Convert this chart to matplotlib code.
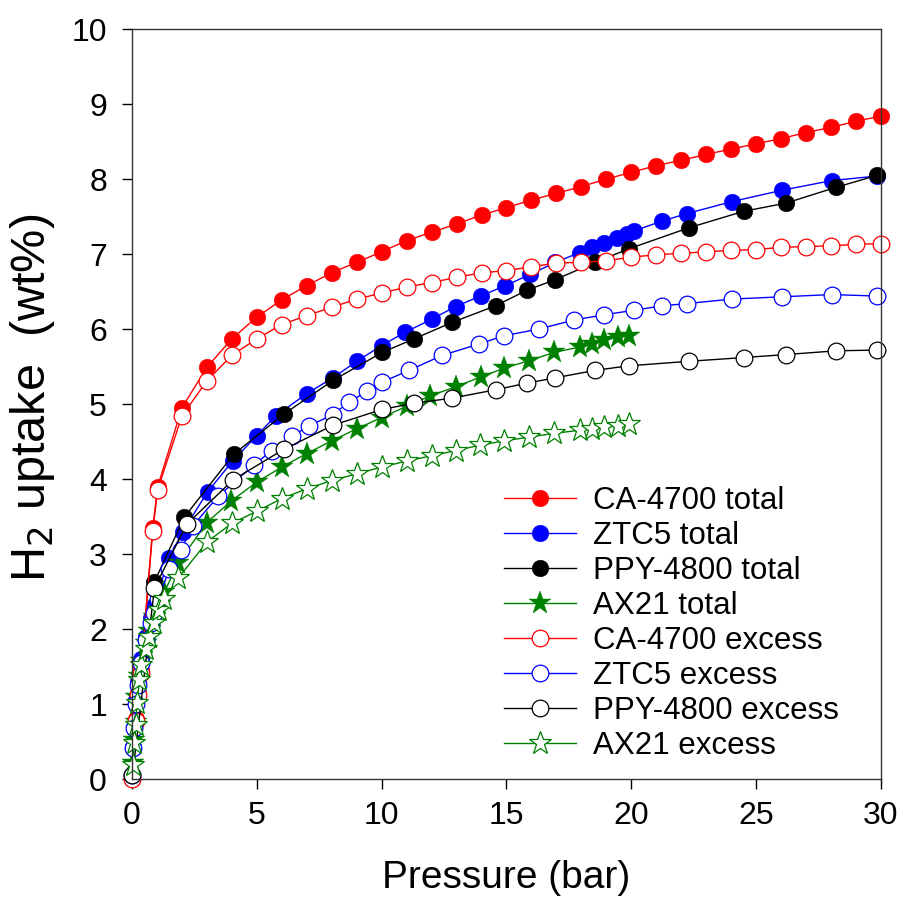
"""H2 uptake isotherms: total and excess for four carbons."""

import matplotlib
matplotlib.use("Agg")
import matplotlib.pyplot as plt

plt.rcParams["font.family"] = ["Liberation Sans", "DejaVu Sans"]

# CA-4700
ca_total_p = [0.0, 0.16, 0.23, 0.36, 0.83, 1.03] + list(range(2, 31))
ca_total_w = [0.0, 0.80, 1.15, 1.45, 3.35, 3.90, 4.95, 5.49, 5.87, 6.16, 6.39, 6.58, 6.75,
              6.89, 7.03, 7.18, 7.29, 7.40, 7.52, 7.62, 7.72, 7.81, 7.90, 8.00, 8.09, 8.18,
              8.25, 8.33, 8.40, 8.47, 8.54, 8.62, 8.69, 8.77, 8.84]
ca_excess_p = ca_total_p
ca_excess_w = [0.0, 0.78, 1.12, 1.42, 3.31, 3.86, 4.84, 5.31, 5.65, 5.87, 6.06, 6.18, 6.29,
               6.40, 6.48, 6.56, 6.62, 6.69, 6.75, 6.78, 6.83, 6.88, 6.89, 6.91, 6.96, 6.99,
               7.01, 7.03, 7.05, 7.06, 7.09, 7.10, 7.11, 7.13, 7.14]

# ZTC5
ztc_total_p = [0.0, 0.03, 0.09, 0.16, 0.23, 0.36, 0.56, 0.76, 0.89, 1.05, 1.5, 2.03, 3.03,
               4.03, 5.0, 5.75, 7.0, 8.05, 9.0, 10.0, 10.95, 12.0, 12.96, 13.96, 14.96,
               15.96, 16.96, 17.93, 18.43, 18.92, 19.43, 19.83, 20.12, 21.23, 22.23, 24.03,
               26.03, 28.03, 29.83]
ztc_total_w = [0.05, 0.43, 0.70, 1.05, 1.30, 1.60, 1.90, 2.15, 2.31, 2.50, 2.95, 3.30, 3.83,
               4.24, 4.58, 4.84, 5.14, 5.35, 5.57, 5.78, 5.96, 6.13, 6.30, 6.44, 6.58, 6.73,
               6.89, 7.02, 7.09, 7.15, 7.22, 7.27, 7.31, 7.44, 7.54, 7.70, 7.85, 7.98, 8.04]
ztc_excess_p = [0.0, 0.03, 0.09, 0.16, 0.23, 0.36, 0.56, 0.76, 0.89, 1.05, 1.5, 1.95, 2.45,
                3.45, 4.89, 5.6, 6.4, 7.09, 8.06, 8.69, 9.43, 10.0, 11.1, 12.43, 13.89,
                14.89, 16.29, 17.7, 18.9, 20.1, 21.23, 22.23, 24.03, 26.03, 28.03, 29.83]
ztc_excess_w = [0.05, 0.42, 0.68, 1.00, 1.25, 1.55, 1.85, 2.08, 2.22, 2.40, 2.80, 3.05, 3.38,
                3.77, 4.19, 4.38, 4.57, 4.71, 4.86, 5.03, 5.17, 5.29, 5.45, 5.65, 5.80,
                5.91, 6.00, 6.12, 6.19, 6.25, 6.31, 6.34, 6.40, 6.43, 6.46, 6.44]

# PPY-4800
ppy_total_p = [0.02, 0.9, 2.09, 4.07, 6.1, 8.07, 10.03, 11.3, 12.83, 14.56, 15.83, 16.96,
               18.56, 19.9, 22.3, 24.5, 26.2, 28.2, 29.85]
ppy_total_w = [0.05, 2.63, 3.49, 4.33, 4.87, 5.32, 5.69, 5.87, 6.09, 6.31, 6.52, 6.66,
               6.89, 7.07, 7.35, 7.57, 7.68, 7.89, 8.05]
ppy_excess_p = [0.02, 0.9, 2.2, 4.05, 6.1, 8.07, 10.03, 11.3, 12.83, 14.56, 15.83, 16.96,
                18.56, 19.9, 22.3, 24.5, 26.2, 28.2, 29.85]
ppy_excess_w = [0.05, 2.55, 3.40, 3.99, 4.40, 4.72, 4.93, 5.01, 5.08, 5.19, 5.28, 5.35,
                5.45, 5.51, 5.57, 5.62, 5.66, 5.71, 5.72]

# AX21
ax21_total_p = [0.03, 0.09, 0.16, 0.16, 0.29, 0.36, 0.56, 0.69, 0.89, 1.09, 1.29, 1.85,
                3.0, 3.98, 5.0, 6.0, 7.0, 8.0, 9.0, 10.0, 11.0, 11.95, 12.96, 13.96, 14.92,
                15.92, 16.92, 17.93, 18.43, 18.92, 19.45, 19.89]
ax21_total_w = [0.21, 0.52, 0.76, 1.10, 1.38, 1.58, 1.81, 1.98, 2.16, 2.34, 2.49, 2.88,
                3.42, 3.71, 3.96, 4.16, 4.34, 4.51, 4.67, 4.82, 4.97, 5.11, 5.23, 5.36, 5.48,
                5.58, 5.69, 5.76, 5.80, 5.85, 5.89, 5.91]
ax21_excess_p = [0.03, 0.09, 0.16, 0.2, 0.3, 0.38, 0.56, 0.7, 0.9, 1.1, 1.3, 1.85,
                 3.0, 4.0, 5.0, 6.0, 7.0, 8.0, 9.0, 10.0, 11.0, 12.0, 12.96, 13.93, 14.92,
                 15.92, 16.92, 17.93, 18.43, 18.92, 19.45, 19.89]
ax21_excess_w = [0.19, 0.48, 0.72, 1.02, 1.32, 1.52, 1.74, 1.90, 2.08, 2.26, 2.40, 2.68,
                 3.16, 3.41, 3.57, 3.74, 3.87, 3.98, 4.07, 4.16, 4.24, 4.31, 4.38, 4.45, 4.51,
                 4.56, 4.61, 4.65, 4.67, 4.69, 4.71, 4.73]

SERIES = [
    ("CA-4700 total", ca_total_p, ca_total_w, "red", "o", True),
    ("ZTC5 total", ztc_total_p, ztc_total_w, "blue", "o", True),
    ("PPY-4800 total", ppy_total_p, ppy_total_w, "black", "o", True),
    ("AX21 total", ax21_total_p, ax21_total_w, "green", "*", True),
    ("CA-4700 excess", ca_excess_p, ca_excess_w, "red", "o", False),
    ("ZTC5 excess", ztc_excess_p, ztc_excess_w, "blue", "o", False),
    ("PPY-4800 excess", ppy_excess_p, ppy_excess_w, "black", "o", False),
    ("AX21 excess", ax21_excess_p, ax21_excess_w, "green", "*", False),
]


def main() -> None:
    fig = plt.figure(figsize=(9.01, 9.0), dpi=100)
    ax = fig.add_axes([0.1465, 0.1344, 0.8313, 0.8333])

    for label, p, w, color, marker, filled in SERIES:
        ms = 17 if marker == "*" else 12
        ax.plot(p, w, color=color, lw=1.0, marker=marker, ms=ms,
                mfc=color if filled else "white", mec=color,
                mew=0.3 if filled else 0.9, label=label, clip_on=False)

    ax.set_xlim(0, 30)
    ax.set_ylim(0, 10)
    ax.set_xticks(range(0, 31, 5))
    ax.set_yticks(range(0, 11))
    ax.tick_params(direction="out", length=7, width=1, labelsize=23, top=False, right=False)
    ax.tick_params(axis="y", pad=11)
    ax.tick_params(axis="x", pad=9)
    for s in ax.spines.values():
        s.set_linewidth(1.0)
        s.set_color("#333333")

    ax.set_xlabel("Pressure (bar)", fontsize=28, labelpad=21)
    # y label sits low and runs large, as in the source figure
    fig.text(0.036, (900 - 582) / 900, "H$_2$ uptake  (wt%)", fontsize=35,
             rotation=90, ha="center", va="bottom")

    ax.legend(loc="upper left", bbox_to_anchor=(0.497, 0.391), frameon=False,
              fontsize=22.5, handlelength=2.3, handletextpad=0.55, labelspacing=0.16,
              borderaxespad=0, borderpad=0)

    fig.savefig("out.png", dpi=100)
    plt.close(fig)


if __name__ == "__main__":
    main()
